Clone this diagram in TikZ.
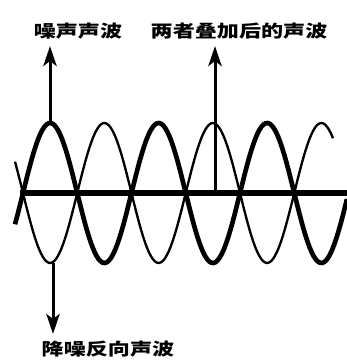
\documentclass[tikz,border=0pt]{standalone}
\usepackage{fontspec}
\newfontfamily\cjk{Noto Sans CJK SC}
\usetikzlibrary{arrows.meta, positioning}

\begin{document}
\begin{tikzpicture}[
  x=0.3mm, y=0.3mm,
  label/.style={inner sep=0pt, xscale=1.3, transform shape,
                font=\cjk\bfseries\fontsize{14.5}{16}\selectfont},
  arrow/.style={-{Stealth[length=6mm, width=4mm, inset=1.5mm]},
                line width=0.9mm, shorten >=2mm},
  noise/.style={line width=1.4mm},
  anti/.style={line width=0.7mm},
  axis/.style={line width=1.9mm},
]
\useasboundingbox (0,0) rectangle (347,360);

% ---- 两列声波 ----
\draw[anti]  plot[domain=15:333, samples=160]
      (\x, {167-70*sin(3.318*(\x-23))});
\draw[noise] plot[domain=15:347, samples=160]
      (\x, {167+70*sin(3.318*(\x-23))});

% ---- 叠加后 ----
\coordinate (ax-l) at (20,167);
\coordinate (ax-r) at (347,167);
\draw[axis] (ax-l) -- (ax-r);

% ---- 标注 ----
\node[label] (lbl-noise) at (78,329)  {噪声声波};
\node[label] (lbl-sum)   at (239,329) {两者叠加后的声波};
\node[label] (lbl-anti)  at (108,11)  {降噪反向声波};

\coordinate (noise-top) at (50,237);
\coordinate (sum-mid)   at (215,167);
\coordinate (anti-bot)  at (53,97);

\draw[arrow] (noise-top) -- (noise-top |- lbl-noise.south);
\draw[arrow] (sum-mid)   -- (sum-mid |- lbl-sum.south);
\draw[arrow] (anti-bot)  -- (anti-bot |- lbl-anti.north);

\end{tikzpicture}
\end{document}
